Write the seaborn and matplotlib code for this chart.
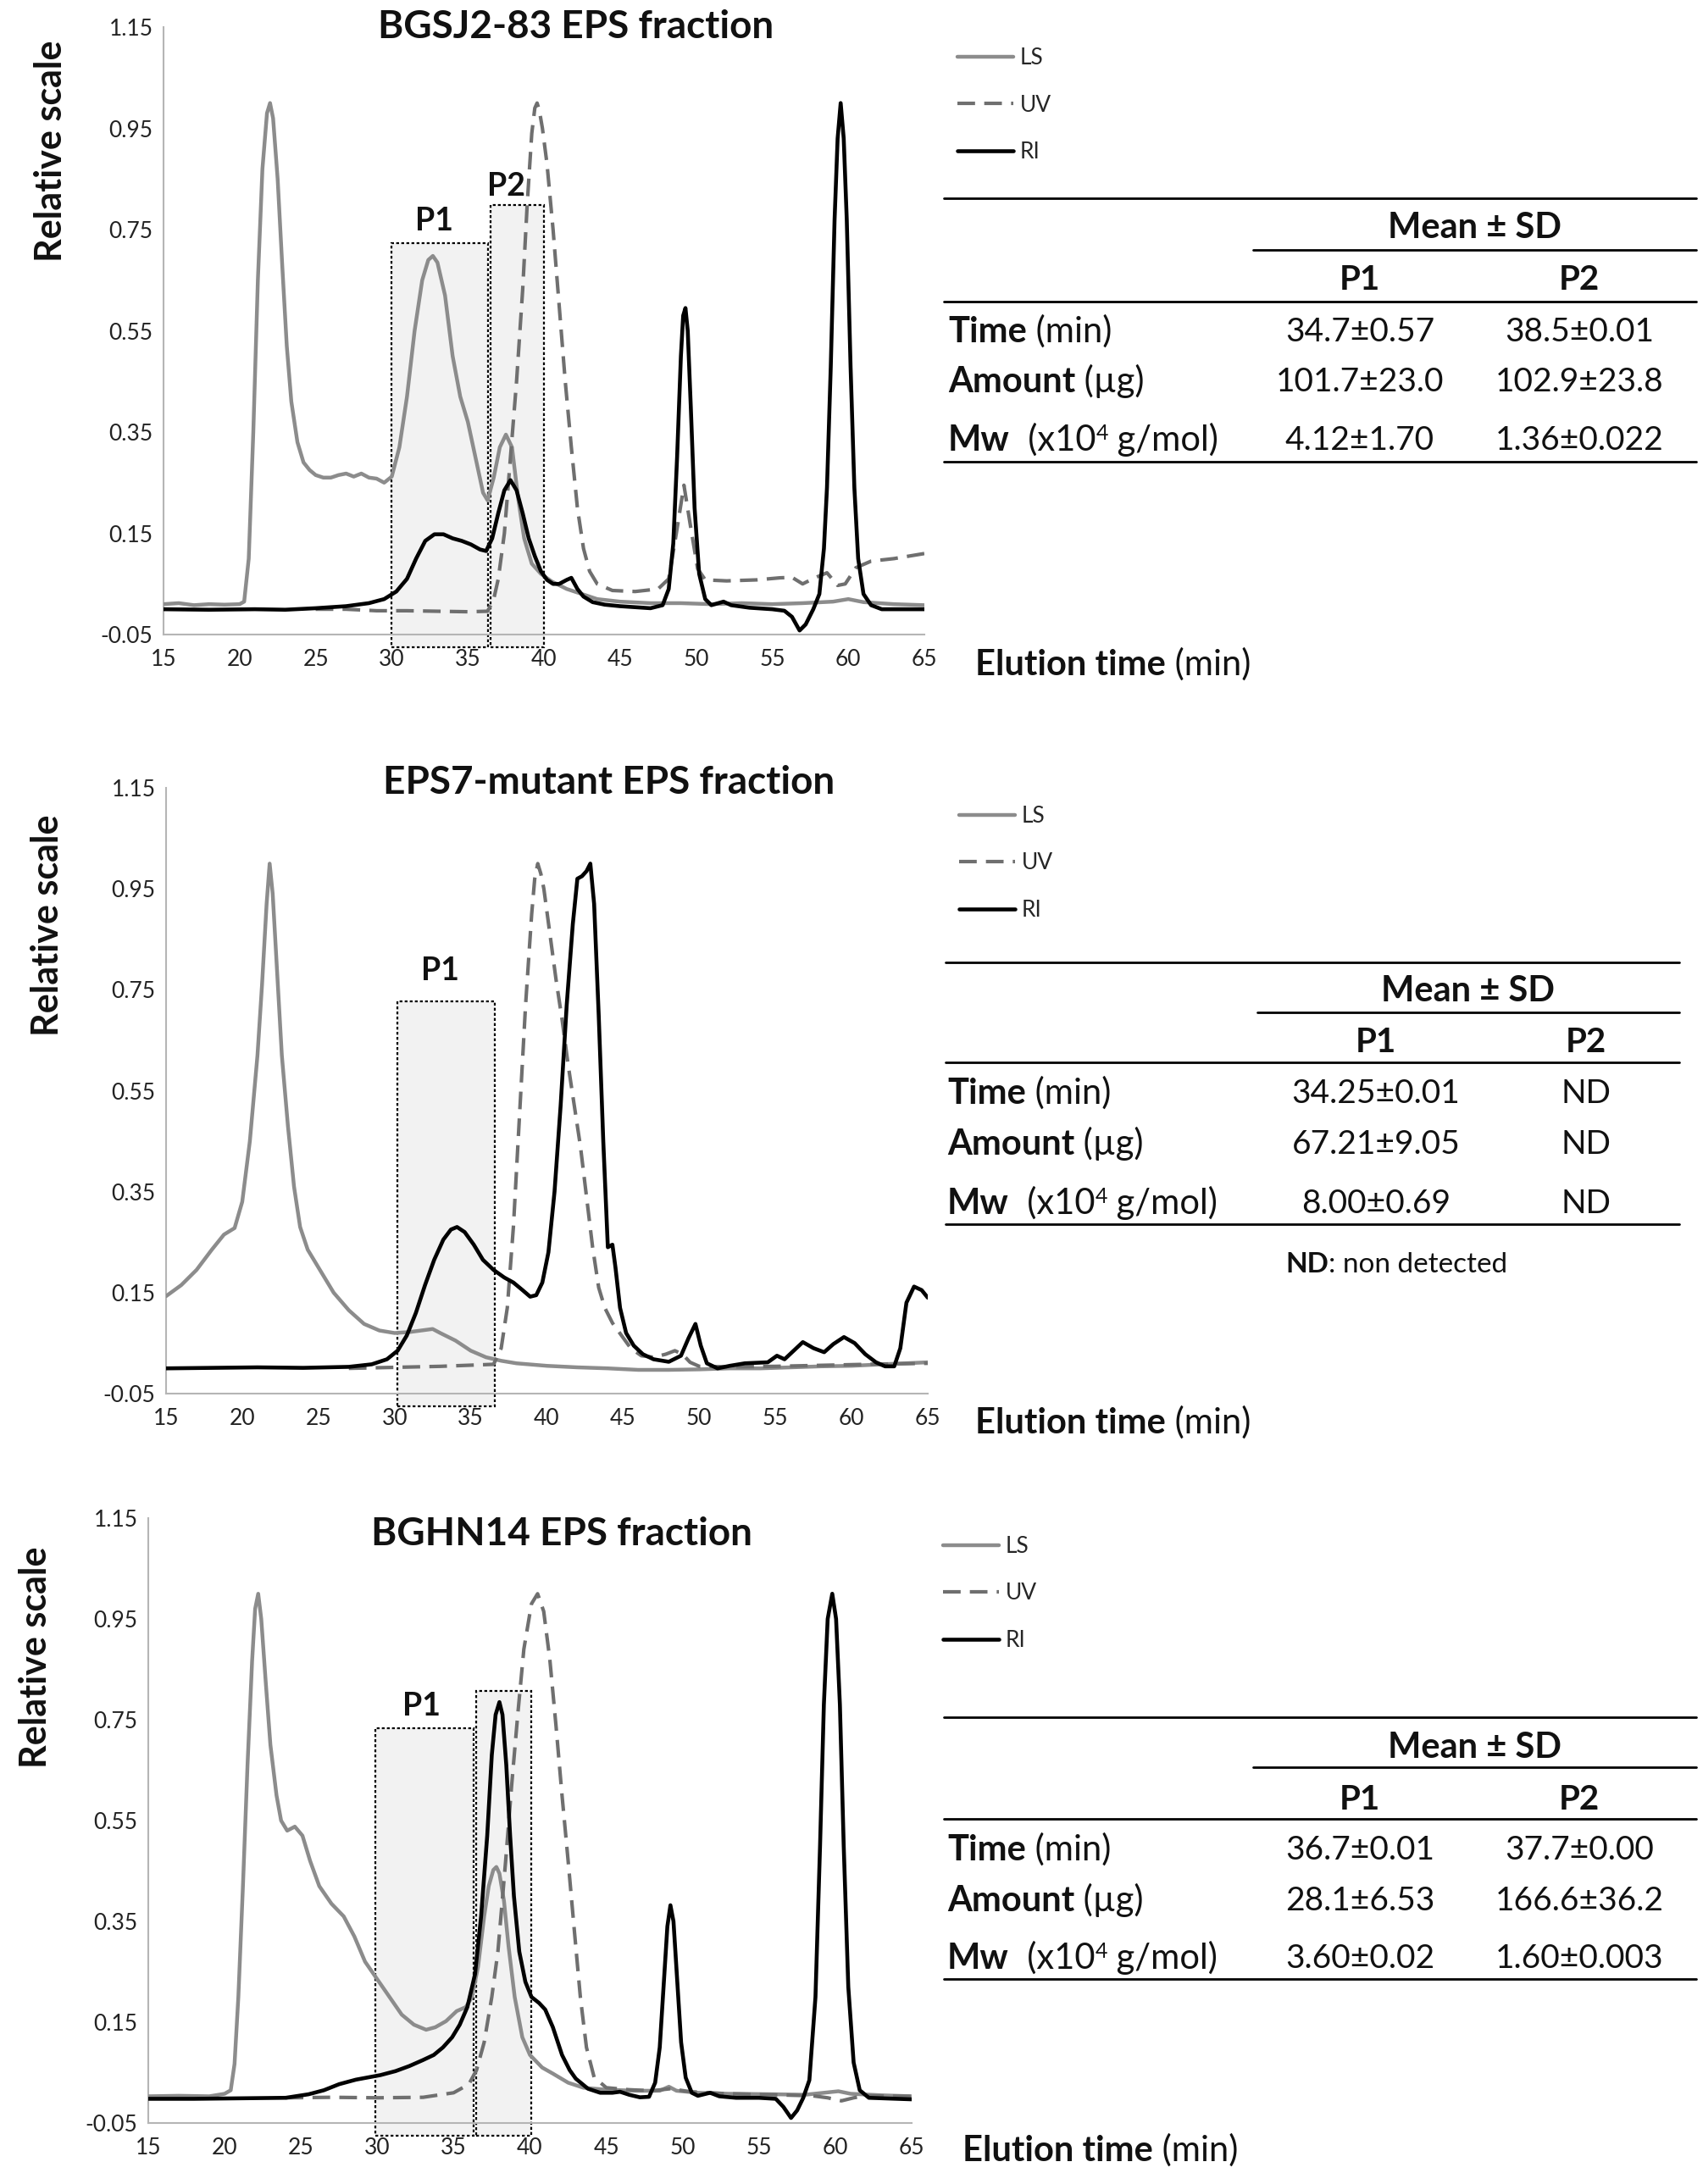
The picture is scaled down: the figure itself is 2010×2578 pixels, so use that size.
import numpy as np
import pandas as pd
import matplotlib
matplotlib.use("Agg")
import matplotlib.pyplot as plt
from matplotlib.patches import Rectangle
import seaborn as sns

# ---------------- data ----------------
# panel 1 : BGSJ2-83
bgsj_ls_t = [15, 16, 17, 18, 19, 20, 20.3, 20.6, 20.9, 21.2, 21.5, 21.8, 22.0, 22.2, 22.5, 22.8, 23.1, 23.4, 23.8,
             24.2, 24.6, 25.0, 25.5, 26.0, 26.5, 27.0, 27.5, 28.0, 28.5, 29.0, 29.5, 30.0, 30.5, 31.0, 31.5, 32.0,
             32.4, 32.7, 33.0, 33.5, 34.0, 34.5, 35.0, 35.5, 36.0, 36.3, 36.7, 37.1, 37.5, 37.9, 38.3, 38.7, 39.2,
             39.8, 40.5, 41.5, 42.5, 43.5, 45, 47, 49, 51, 53, 55, 57, 59, 60, 61, 63, 65]
bgsj_ls = [0.01, 0.012, 0.008, 0.01, 0.009, 0.01, 0.015, 0.1, 0.35, 0.65, 0.87, 0.98, 1.0, 0.97, 0.85, 0.68, 0.52,
           0.41, 0.33, 0.29, 0.275, 0.265, 0.26, 0.26, 0.265, 0.268, 0.262, 0.268, 0.26, 0.258, 0.25, 0.262, 0.32,
           0.42, 0.55, 0.65, 0.69, 0.698, 0.685, 0.62, 0.5, 0.42, 0.37, 0.3, 0.23, 0.215, 0.26, 0.32, 0.345, 0.32,
           0.22, 0.14, 0.09, 0.07, 0.055, 0.04, 0.03, 0.02, 0.015, 0.012, 0.012, 0.01, 0.012, 0.01, 0.012, 0.015,
           0.02, 0.014, 0.01, 0.008]
bgsj_uv_t = [25, 27, 29, 31, 33, 35, 36.3, 36.7, 37.0, 37.4, 37.8, 38.2, 38.6, 38.9, 39.2, 39.4, 39.55, 39.7, 39.9,
             40.2, 40.6, 41.0, 41.4, 41.8, 42.2, 42.6, 43.0, 43.5, 44.5, 46, 47.5, 48.2, 48.7, 49.2, 49.6, 50.1,
             50.6, 52, 54, 55.5, 56.3, 57, 57.8, 58.6, 59.3, 59.8, 60.5, 61.5, 63, 65]
bgsj_uv = [0.0, 0.0, -0.003, -0.003, -0.004, -0.005, -0.004, 0.02, 0.06, 0.15, 0.3, 0.45, 0.63, 0.8, 0.94, 0.99,
           1.0, 0.985, 0.95, 0.88, 0.75, 0.6, 0.45, 0.32, 0.2, 0.12, 0.075, 0.05, 0.037, 0.035, 0.04, 0.06, 0.15,
           0.245, 0.17, 0.08, 0.058, 0.056, 0.058, 0.062, 0.063, 0.05, 0.062, 0.072, 0.047, 0.05, 0.082, 0.095,
           0.1, 0.11]
bgsj_ri_t = [15, 18, 21, 23, 25, 27, 28.5, 29.5, 30.3, 31.0, 31.6, 32.2, 32.8, 33.4, 34.0, 34.6, 35.2, 35.8, 36.2,
             36.6, 37.0, 37.4, 37.8, 38.2, 38.6, 39.0, 39.4, 39.8, 40.2, 40.6, 41.0, 41.5, 41.8, 42.2, 42.6, 43.2,
             44, 45, 46, 47, 47.8, 48.2, 48.5, 48.75, 49.0, 49.15, 49.3, 49.45, 49.65, 49.9, 50.2, 50.6, 51.0,
             51.8, 52.3, 53.5, 55, 55.8, 56.3, 56.8, 57.2, 57.7, 58.1, 58.4, 58.6, 58.85, 59.1, 59.3, 59.5, 59.7,
             59.9, 60.15, 60.4, 60.65, 61.0, 61.5, 62.2, 63.5, 65]
bgsj_ri = [0.0, -0.001, 0.0, -0.001, 0.002, 0.006, 0.012, 0.02, 0.035, 0.06, 0.1, 0.135, 0.148, 0.148, 0.14, 0.135,
           0.128, 0.118, 0.115, 0.14, 0.19, 0.235, 0.255, 0.235, 0.19, 0.14, 0.105, 0.075, 0.058, 0.05, 0.05, 0.058,
           0.062, 0.04, 0.025, 0.014, 0.009, 0.006, 0.004, 0.002, 0.008, 0.04, 0.13, 0.3, 0.5, 0.58, 0.595, 0.55,
           0.4, 0.2, 0.07, 0.02, 0.008, 0.015, 0.008, 0.003, 0.0, -0.003, -0.015, -0.042, -0.03, 0.0, 0.03, 0.12,
           0.24, 0.48, 0.77, 0.93, 1.0, 0.93, 0.77, 0.48, 0.24, 0.1, 0.03, 0.008, 0.0, 0.0, 0.0]

# panel 2 : EPS7-mutant
eps7_ls_t = [15, 16, 17, 18, 18.8, 19.5, 20.0, 20.5, 21.0, 21.3, 21.6, 21.8, 22.0, 22.3, 22.6, 23.0, 23.4, 23.8,
             24.3, 25, 26, 27, 28, 29, 30, 31, 32, 32.5, 33, 34, 35, 36, 37, 38, 40, 42, 44, 46, 48, 50, 52, 54,
             56, 58, 60, 62, 65]
eps7_ls = [0.143, 0.165, 0.195, 0.235, 0.265, 0.278, 0.33, 0.45, 0.62, 0.76, 0.92, 1.0, 0.94, 0.78, 0.62, 0.48,
           0.36, 0.28, 0.235, 0.2, 0.15, 0.115, 0.088, 0.075, 0.07, 0.072, 0.076, 0.078, 0.07, 0.055, 0.035,
           0.022, 0.015, 0.01, 0.005, 0.002, 0.0, -0.003, -0.003, -0.002, 0.0, 0.0, 0.002, 0.004, 0.005, 0.008,
           0.012]
eps7_uv_t = [27, 30, 33, 36.5, 37.0, 37.4, 37.8, 38.2, 38.6, 39.0, 39.2, 39.4, 39.6, 39.8, 40.2, 40.6, 41.0, 41.4,
             41.8, 42.2, 42.6, 43.0, 43.4, 43.8, 44.3, 44.9, 45.5, 46.2, 47.0, 47.8, 48.4, 48.9, 49.4, 50, 52, 55,
             58, 61, 65]
eps7_uv = [0.0, 0.002, 0.004, 0.008, 0.04, 0.12, 0.28, 0.5, 0.72, 0.9, 0.97, 1.0, 0.98, 0.95, 0.86, 0.77, 0.69,
           0.6, 0.52, 0.44, 0.34, 0.24, 0.16, 0.12, 0.09, 0.065, 0.04, 0.025, 0.022, 0.028, 0.035, 0.028, 0.012,
           0.004, 0.003, 0.004, 0.006, 0.008, 0.01]
eps7_ri_t = [15, 18, 21, 24, 27, 28.5, 29.5, 30.2, 30.8, 31.4, 32.0, 32.6, 33.2, 33.7, 34.1, 34.6, 35.2, 35.8,
             36.5, 37.2, 37.8, 38.4, 38.9, 39.3, 39.7, 40.1, 40.5, 40.9, 41.3, 41.7, 42.0, 42.3, 42.6, 42.85,
             43.1, 43.4, 43.7, 44.0, 44.3, 44.5, 44.8, 45.2, 45.7, 46.3, 47.0, 48.0, 48.8, 49.3, 49.75, 50.1,
             50.5, 51.2, 52.0, 53.0, 54.5, 55.1, 55.6, 56.2, 56.8, 57.5, 58.2, 58.8, 59.5, 60.2, 60.9, 61.6,
             62.2, 62.8, 63.2, 63.6, 64.1, 64.6, 65]
eps7_ri = [0.0, 0.001, 0.002, 0.001, 0.003, 0.008, 0.018, 0.035, 0.065, 0.11, 0.165, 0.215, 0.255, 0.275, 0.28,
           0.27, 0.245, 0.215, 0.195, 0.18, 0.17, 0.155, 0.142, 0.145, 0.17, 0.23, 0.35, 0.52, 0.72, 0.88, 0.97,
           0.975, 0.985, 1.0, 0.92, 0.7, 0.45, 0.24, 0.245, 0.2, 0.12, 0.07, 0.045, 0.028, 0.018, 0.013, 0.025,
           0.06, 0.088, 0.045, 0.01, 0.0, 0.005, 0.01, 0.012, 0.025, 0.018, 0.035, 0.052, 0.04, 0.032, 0.048,
           0.062, 0.05, 0.028, 0.012, 0.004, 0.004, 0.04, 0.13, 0.162, 0.155, 0.14]

# panel 3 : BGHN14
bghn_ls_t = [15, 17, 19, 20.0, 20.4, 20.65, 20.9, 21.2, 21.5, 21.8, 22.0, 22.2, 22.4, 22.7, 23.0, 23.4, 23.7, 24.1,
             24.6, 25.1, 25.6, 26.2, 27.0, 27.8, 28.5, 29.2, 30.0, 30.8, 31.6, 32.4, 33.2, 33.8, 34.5, 35.2, 35.8,
             36.2, 36.6, 37.0, 37.3, 37.6, 37.8, 38.0, 38.3, 38.6, 39.0, 39.5, 40.0, 40.8, 41.5, 42.5, 43.5, 45,
             47, 48.5, 49.1, 49.6, 51, 53, 56, 58, 60.2, 61, 63, 65]
bghn_ls = [0.003, 0.004, 0.003, 0.008, 0.015, 0.067, 0.2, 0.42, 0.66, 0.866, 0.97, 1.0, 0.95, 0.822, 0.7, 0.6,
           0.55, 0.53, 0.538, 0.52, 0.47, 0.42, 0.385, 0.36, 0.32, 0.27, 0.235, 0.2, 0.165, 0.145, 0.135, 0.14,
           0.152, 0.172, 0.18, 0.2, 0.26, 0.36, 0.42, 0.452, 0.458, 0.445, 0.39, 0.3, 0.2, 0.12, 0.085, 0.06,
           0.048, 0.03, 0.02, 0.016, 0.014, 0.014, 0.022, 0.014, 0.01, 0.008, 0.007, 0.006, 0.013, 0.008, 0.005,
           0.003]
bghn_uv_t = [24, 27, 30, 33, 35, 36.0, 36.5, 37.0, 37.5, 37.9, 38.4, 38.8, 39.2, 39.6, 40.1, 40.5, 40.9, 41.3,
             41.7, 42.1, 42.5, 42.9, 43.3, 43.7, 44.2, 45.0, 46.5, 48.0, 49.2, 50.5, 53, 56, 58.5, 59.5, 60.4,
             61.2, 62, 65]
bghn_uv = [0.0, 0.001, 0.0, 0.001, 0.01, 0.027, 0.055, 0.11, 0.2, 0.29, 0.467, 0.62, 0.76, 0.89, 0.98, 1.0, 0.965,
           0.87, 0.74, 0.6, 0.47, 0.334, 0.2, 0.1, 0.041, 0.02, 0.016, 0.014, 0.018, 0.012, 0.008, 0.006, 0.004,
           0.0, -0.006, 0.0, 0.004, 0.003]
bghn_ri_t = [15, 18, 21, 24, 25.5, 26.5, 27.5, 28.6, 30.2, 31.2, 32.1, 33.0, 33.7, 34.3, 34.9, 35.4, 35.9, 36.4,
             36.8, 37.2, 37.5, 37.75, 38.0, 38.2, 38.45, 38.7, 38.95, 39.3, 39.7, 40.1, 40.6, 41.0, 41.5, 42.1,
             42.6, 43.0, 43.8, 44.6, 45.4, 45.9, 46.5, 47.2, 47.8, 48.2, 48.5, 48.75, 49.0, 49.2, 49.4, 49.65,
             49.9, 50.2, 50.6, 51.0, 51.8, 52.4, 53.5, 55, 56.1, 56.6, 57.1, 57.5, 57.9, 58.3, 58.7, 59.0, 59.25,
             59.5, 59.8, 60.05, 60.3, 60.55, 60.85, 61.2, 61.6, 62.2, 65]
bghn_ri = [-0.002, -0.002, -0.001, 0.0, 0.007, 0.015, 0.027, 0.036, 0.045, 0.053, 0.063, 0.075, 0.085, 0.1, 0.12,
           0.145, 0.18, 0.245, 0.36, 0.52, 0.68, 0.76, 0.785, 0.76, 0.66, 0.52, 0.4, 0.29, 0.23, 0.2, 0.188,
           0.175, 0.14, 0.085, 0.055, 0.038, 0.018, 0.01, 0.01, 0.012, 0.006, 0.001, 0.002, 0.03, 0.1, 0.22, 0.34,
           0.382, 0.35, 0.23, 0.11, 0.04, 0.01, 0.004, 0.01, 0.003, 0.0, 0.0, -0.002, -0.018, -0.04, -0.025, 0.0,
           0.035, 0.2, 0.5, 0.78, 0.95, 1.0, 0.95, 0.78, 0.5, 0.22, 0.07, 0.015, 0.0, -0.003]

# collected fractions: (start, end, top) in minutes / relative scale
bgsj_boxes = [(30.0, 36.3, 0.724), (36.5, 40.0, 0.799)]
eps7_boxes = [(30.2, 36.6, 0.727)]
bghn_boxes = [(29.9, 36.3, 0.733), (36.5, 40.1, 0.807)]

titles = ["BGSJ2-83 EPS fraction", "EPS7-mutant EPS fraction", "BGHN14 EPS fraction"]
detectors = ["LS", "UV", "RI"]
x_ticks = [15, 20, 25, 30, 35, 40, 45, 50, 55, 60, 65]
y_ticks = [-0.05, 0.15, 0.35, 0.55, 0.75, 0.95, 1.15]

row_names = [
    [("Time", "bold"), (" (min)", "normal")],
    [("Amount", "bold"), (" (µg)", "normal")],
    [("Mw", "bold"), ("  (x10", "normal"), ("4", "sup"), (" g/mol)", "normal")],
]
col_names = ["P1", "P2"]
bgsj_table = [["34.7±0.57", "38.5±0.01"], ["101.7±23.0", "102.9±23.8"], ["4.12±1.70", "1.36±0.022"]]
eps7_table = [["34.25±0.01", "ND"], ["67.21±9.05", "ND"], ["8.00±0.69", "ND"]]
bghn_table = [["36.7±0.01", "37.7±0.00"], ["28.1±6.53", "166.6±36.2"], ["3.60±0.02", "1.60±0.003"]]


def make_df(ls_t, ls, uv_t, uv, ri_t, ri):
    parts = []
    for name, t, v in zip(detectors, [ls_t, uv_t, ri_t], [ls, uv, ri]):
        parts.append(pd.DataFrame({"time": t, "signal": v, "detector": name}))
    return pd.concat(parts, ignore_index=True)


panels = [
    dict(df=make_df(bgsj_ls_t, bgsj_ls, bgsj_uv_t, bgsj_uv, bgsj_ri_t, bgsj_ri), boxes=bgsj_boxes,
         table=bgsj_table, title=titles[0]),
    dict(df=make_df(eps7_ls_t, eps7_ls, eps7_uv_t, eps7_uv, eps7_ri_t, eps7_ri), boxes=eps7_boxes,
         table=eps7_table, title=titles[1]),
    dict(df=make_df(bghn_ls_t, bghn_ls, bghn_uv_t, bghn_uv, bghn_ri_t, bghn_ri), boxes=bghn_boxes,
         table=bghn_table, title=titles[2]),
]

# ---------------- layout (figure pixels) ----------------
W, H = 2010, 2578
layout = [
    dict(ax=(193, 32, 1091, 749), title=(680, 32), ylab=(60, 178), legend=(1130, 124), elution=(1151, 785),
         plab=[(32.8, 0.766), (37.5, 0.836)],
         tab=dict(x0=1114, x1=2002, sx0=1479, top=234, mean=(1741, 269), sub=295, head=331, cols=(1605, 1864),
                  hline=356, rows=(392, 451, 520), bottom=545, lx=1119)),
    dict(ax=(196, 930, 1095, 1645), title=(719, 924), ylab=(56, 1092), legend=(1132, 1019), elution=(1151, 1680),
         plab=[(33.0, 0.787)],
         tab=dict(x0=1116, x1=1982, sx0=1484, top=1136, mean=(1732, 1170), sub=1195, head=1231, cols=(1624, 1872),
                  hline=1254, rows=(1291, 1351, 1421), bottom=1445, lx=1118)),
    dict(ax=(175, 1792, 1076, 2506), title=(663, 1811), ylab=(42, 1956), legend=(1113, 1881), elution=(1136, 2539),
         plab=[(32.9, 0.777)],
         tab=dict(x0=1114, x1=2002, sx0=1479, top=2027, mean=(1741, 2063), sub=2086, head=2124, cols=(1605, 1864),
                  hline=2147, rows=(2184, 2244, 2312), bottom=2336, lx=1118)),
]

sns.set_theme(style="white")
plt.rcParams["font.family"] = ["Lato", "DejaVu Sans"]

pal = {"LS": "#8c8c8c", "UV": "#6f6f6f", "RI": "#000000"}
dash_map = {"LS": "", "UV": (5, 2.6), "RI": ""}
widths = {"LS": 3.2, "UV": 3.0, "RI": 3.3}

fig = plt.figure(figsize=(W / 100, H / 100), dpi=100)
bg = fig.add_axes([0, 0, 1, 1])
bg.set_xlim(0, W)
bg.set_ylim(H, 0)
bg.set_axis_off()

INK = "#111111"


def chain(x, y, parts, size):
    # parts: list of (text, style); pieces placed one after another on a common line
    first = bg.text(x, y, parts[0][0], fontsize=size, fontweight=parts[0][1], ha="left", va="center", color=INK)
    line_ref = first
    last = first
    for txt, style in parts[1:]:
        if style == "sup":
            last = bg.annotate(txt, xy=(1, 1), xycoords=last, ha="left", va="top", fontsize=size * 0.6,
                               color=INK)
        else:
            last = bg.annotate(txt, xy=(1, 0), xycoords=(last, line_ref), ha="left", va="bottom", fontsize=size,
                               fontweight=style, color=INK)
            line_ref = last
    return last


for p, lay in zip(panels, layout):
    l, t, r, b = lay["ax"]
    ax = fig.add_axes([l / W, 1 - b / H, (r - l) / W, (b - t) / H])
    sns.lineplot(data=p["df"], x="time", y="signal", hue="detector", style="detector", size="detector",
                 hue_order=detectors, palette=pal, dashes=dash_map, sizes=widths, ax=ax, zorder=3)
    for (x0, x1, top) in p["boxes"]:
        ax.add_patch(Rectangle((x0, -0.075), x1 - x0, top + 0.075, facecolor="#f2f2f2", edgecolor="black",
                               linestyle=(0, (1.5, 1.2)), linewidth=1.6, clip_on=False, zorder=1))
    for (lx, ly), name in zip(lay["plab"], col_names):
        ax.text(lx, ly, name, ha="center", va="center", fontsize=27, fontweight="bold", color=INK)
    ax.set_xlim(15, 65)
    ax.set_ylim(-0.05, 1.15)
    ax.set_xticks(x_ticks)
    ax.set_yticks(y_ticks)
    ax.set_yticklabels(["%.2f" % v for v in y_ticks])
    ax.set_xlabel("")
    ax.set_ylabel("")
    for s in ["top", "right"]:
        ax.spines[s].set_visible(False)
    for s in ["left", "bottom"]:
        ax.spines[s].set_color("#b5b5b5")
        ax.spines[s].set_linewidth(1.5)
    ax.tick_params(axis="x", direction="out", length=7, width=1.3, color="#b5b5b5", labelsize=19, pad=5,
                   labelcolor="#222222")
    ax.tick_params(axis="y", direction="out", length=5, width=1.3, color="#b5b5b5", labelsize=19, pad=4,
                   labelcolor="#222222")
    ax.set_facecolor("none")

    # legend moved to the right of the plot
    old = ax.get_legend()
    handles = old.legend_handles
    labels = [tx.get_text() for tx in old.get_texts()]
    old.remove()
    ax.legend(handles, labels, loc="center left", bbox_to_anchor=lay["legend"], bbox_transform=bg.transData,
              frameon=False, fontsize=19, handlelength=2.5, handletextpad=0.3, labelspacing=1.15,
              borderpad=0, borderaxespad=0)

    bg.text(*lay["title"], p["title"], ha="center", va="center", fontsize=33, fontweight="bold", color=INK)
    bg.text(*lay["ylab"], "Relative scale", ha="center", va="center", rotation=90, fontsize=31,
            fontweight="bold", color=INK)
    chain(*lay["elution"], [("Elution time", "bold"), (" (min)", "normal")], 30)

    # summary table
    tb = lay["tab"]
    bg.plot([tb["x0"], tb["x1"]], [tb["top"]] * 2, color="black", lw=2)
    bg.plot([tb["sx0"], tb["x1"]], [tb["sub"]] * 2, color="black", lw=2)
    bg.plot([tb["x0"], tb["x1"]], [tb["hline"]] * 2, color="black", lw=2)
    bg.plot([tb["x0"], tb["x1"]], [tb["bottom"]] * 2, color="black", lw=2)
    bg.text(*tb["mean"], "Mean ± SD", ha="center", va="center", fontsize=30, fontweight="bold", color=INK)
    for cx, name in zip(tb["cols"], col_names):
        bg.text(cx, tb["head"], name, ha="center", va="center", fontsize=29, fontweight="bold", color=INK)
    for ry, parts, vals in zip(tb["rows"], row_names, p["table"]):
        chain(tb["lx"], ry, parts, 30)
        for cx, v in zip(tb["cols"], vals):
            bg.text(cx, ry, v, ha="center", va="center", fontsize=28, color=INK)

chain(1517, 1493, [("ND", "bold"), (": non detected", "normal")], 24)

fig.savefig("out.png", dpi=100)
